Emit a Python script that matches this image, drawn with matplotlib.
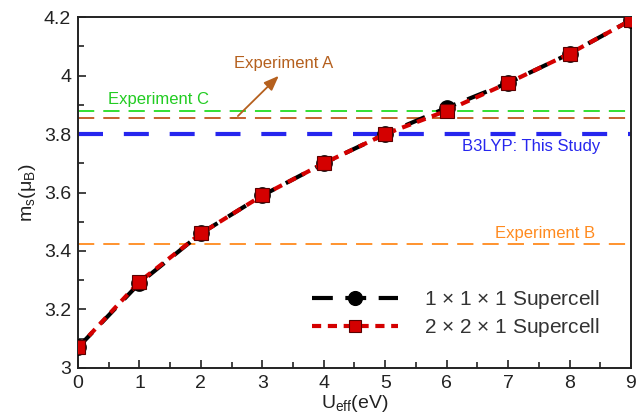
import matplotlib
matplotlib.use("Agg")
import matplotlib.pyplot as plt
from matplotlib.ticker import MultipleLocator

plt.rcParams['font.family'] = ['Liberation Sans', 'DejaVu Sans']
plt.rcParams['mathtext.fontset'] = 'custom'
plt.rcParams['mathtext.rm'] = 'Liberation Sans'
plt.rcParams['mathtext.it'] = 'Liberation Sans'

# U_eff values (eV) and magnetic moments (mu_B)
u_eff = [0, 1, 2, 3, 4, 5, 6, 7, 8, 9]
ms_111 = [3.07, 3.29, 3.46, 3.59, 3.70, 3.80, 3.89, 3.975, 4.075, 4.19]
ms_221 = [3.07, 3.295, 3.46, 3.59, 3.70, 3.80, 3.88, 3.975, 4.075, 4.19]

# Reference values
exp_a = 3.855
exp_b = 3.425
exp_c = 3.88
b3lyp = 3.80

fig = plt.figure(figsize=(6.37, 4.19), dpi=100)
ax = fig.add_axes([0.1225, 0.122, 0.868, 0.837])

# Reference lines
ax.axhline(exp_c, color='#22dd22', lw=1.3, dashes=(9, 5))
ax.axhline(exp_a, color='#c0561c', lw=1.3, dashes=(9, 5))
ax.axhline(b3lyp, color='#2626ee', lw=3.0, dashes=(6, 5))
ax.axhline(exp_b, color='#ff8a1e', lw=1.3, dashes=(9, 5))

# Computed curves
ax.plot(u_eff, ms_111, color='black', lw=3, dashes=(5, 3), marker='o',
        markersize=11, markerfacecolor='black', markeredgecolor='black',
        label=r'1 $\times$ 1 $\times$ 1 Supercell', zorder=3)
ax.plot(u_eff, ms_221, color='#d40000', lw=3, dashes=(2.2, 1.6), marker='s',
        markersize=10, markerfacecolor='#d40000', markeredgecolor='#5a0000',
        markeredgewidth=0.8,
        label=r'2 $\times$ 2 $\times$ 1 Supercell', zorder=4)

# Annotations
ax.text(0.49, 3.918, 'Experiment C', color='#22cc22', fontsize=12,
        ha='left', va='center')
ax.text(6.25, 3.757, 'B3LYP: This Study', color='#2626ee', fontsize=12,
        ha='left', va='center')
ax.text(6.79, 3.46, 'Experiment B', color='#ff8a1e', fontsize=12,
        ha='left', va='center')
ax.text(3.34, 4.043, 'Experiment A', color='#b5601e', fontsize=12,
        ha='center', va='center')
ax.plot([2.5, 2.57], [exp_a, exp_a], color='#b5601e', lw=1.3)
ax.annotate('', xy=(3.3, 4.006), xytext=(2.57, exp_a),
            arrowprops=dict(arrowstyle='-|>,head_length=0.9,head_width=0.35',
                            color='#b5601e', lw=1.3))

ax.set_xlim(0, 9)
ax.set_ylim(3, 4.2)
ax.xaxis.set_major_locator(MultipleLocator(1))
ax.xaxis.set_minor_locator(MultipleLocator(0.5))
ax.yaxis.set_major_locator(MultipleLocator(0.2))
ax.yaxis.set_minor_locator(MultipleLocator(0.1))
ax.set_yticks([3, 3.2, 3.4, 3.6, 3.8, 4, 4.2])
ax.set_yticklabels(['3', '3.2', '3.4', '3.6', '3.8', '4', '4.2'])
ax.tick_params(which='both', direction='in', top=False, right=False,
               labelsize=14, colors='#222222', width=1.2)
ax.tick_params(which='major', length=6, pad=5)
ax.tick_params(which='minor', length=4)
for s in ax.spines.values():
    s.set_linewidth(1.4)
    s.set_color('#222222')

ax.set_xlabel(r'U$_{\rm eff}$(eV)', fontsize=14, labelpad=1, color='#222222')
ax.set_ylabel(r'm$_{\rm s}$($\mu_{\rm B}$)', fontsize=14, labelpad=4,
              color='#222222')

leg = ax.legend(loc='center left', bbox_to_anchor=(0.39, 0.155), frameon=False,
                fontsize=15, handlelength=4.1, handletextpad=1.25,
                labelspacing=0.25, markerscale=0.9)
for t in leg.get_texts():
    t.set_color('#333333')

fig.savefig('out.png', dpi=100)
